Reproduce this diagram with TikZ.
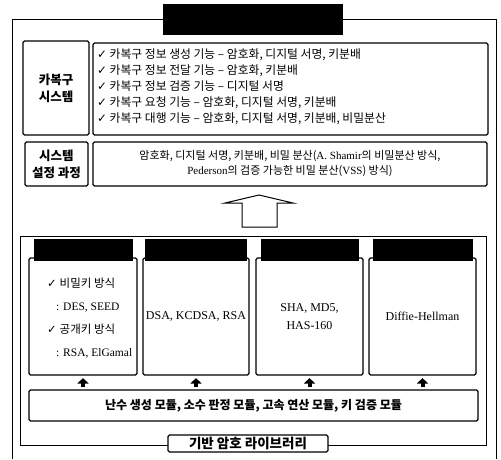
\documentclass[tikz,border=0pt]{standalone}
\usepackage{fontspec}
\setmainfont{Liberation Serif}
\newfontfamily\kr{Noto Sans CJK KR}
\newfontfamily\dv{DejaVu Sans}
\usetikzlibrary{arrows.meta}
\newcommand{\ck}{{\dv ✓}}
\begin{document}
\begin{tikzpicture}[x=1pt,y=-1pt,
  box/.style={draw, line width=1.1pt, rounded corners=1.5pt, fill=white, inner sep=0pt},
  lbl/.style={box, align=center, font=\kr\bfseries\fontsize{12.5}{17}\selectfont},
  algbox/.style={box, minimum height=117, font=\fontsize{12}{18}\selectfont, align=center},
  tab/.style={fill=black, inner sep=0pt, minimum height=22, anchor=south},
  frame/.style={draw, line width=0.8pt, inner sep=0pt},
  smarrow/.style={line width=4pt, -{Triangle[width=11pt,length=5.5pt]}, shorten <=2pt, shorten >=2.5pt},
  hollow/.style={draw, line width=1pt, fill=white, line join=miter}]
\useasboundingbox (0,0) rectangle (501,459);

% outer frame and title
\node[fill=black, minimum width=180, minimum height=31, inner sep=0pt] (title) at (253,19.5) {};
\draw[line width=0.8pt] (12,459) |- (title.west);
\draw[line width=0.8pt] (title.east) -| (496,459);

% top section
\node[lbl, minimum width=66, minimum height=94] (lab1) at (56,88) {카복구\\시스템};
\node[box, minimum width=395, minimum height=92] (con1) at (290.5,89) {};
\node[anchor=west, align=left, inner sep=0pt, font=\kr\fontsize{11.8}{16}\selectfont] (con1t) at (97,87)
 {\ck\ 카복구 정보 생성 기능 – 암호화, 디지털 서명, 키분배\\
  \ck\ 카복구 정보 전달 기능 – 암호화, 키분배\\
  \ck\ 카복구 정보 검증 기능 – 디지털 서명\\
  \ck\ 카복구 요청 기능 – 암호화, 디지털 서명, 키분배\\
  \ck\ 카복구 대행 기능 – 암호화, 디지털 서명, 키분배, 비밀분산};

\node[lbl, minimum width=63, minimum height=44] (lab2) at (56.5,164) {시스템\\설정 과정};
\node[box, minimum width=394, minimum height=44, align=center, font=\fontsize{11}{15}\selectfont] (con2) at (290,164)
 {{\kr 암호화, 디지털 서명, 키분배, 비밀 분산(}A. Shamir{\kr 의 비밀분산 방식,}\\
  Pederson{\kr 의 검증 가능한 비밀 분산(}VSS{\kr ) 방식)}};

% big hollow arrow
\draw[hollow] (242,227) -- (242,203) -- (225,203) -- (259,195) -- (293,203) -- (277,203) -- (277,227) -- cycle;

% lower frame
\node[frame, minimum width=466, minimum height=209] (lframe) at (253,340.5) {};

% algorithm boxes
\node[algbox, minimum width=108] (b1) at (83,316.5) {};
\node[anchor=west, align=left, inner sep=0pt, font=\fontsize{11.5}{23}\selectfont] (b1t) at (47,318)
 {\ck\ {\kr 비밀키 방식}\\
  \hspace*{9pt}: DES, SEED\\
  \ck\ {\kr 공개키 방식}\\
  \hspace*{9pt}: RSA, ElGamal};
\node[algbox, minimum width=106] (b2) at (196,316.5) {DSA, KCDSA, RSA};
\node[algbox, minimum width=107] (b3) at (309.5,316.5) {SHA, MD5,\\HAS-160};
\node[algbox, minimum width=107] (b4) at (422.5,316.5) {Diffie-Hellman};

\node[tab, minimum width=99] (h1) at ([yshift=-4pt]b1.north) {};
\node[tab, minimum width=102] (h2) at ([yshift=-4pt]b2.north) {};
\node[tab, minimum width=98] (h3) at ([yshift=-4pt]b3.north) {};
\node[tab, minimum width=100] (h4) at ([yshift=-4pt]b4.north) {};

% module box
\node[box, minimum width=449, minimum height=31, font=\kr\bfseries\fontsize{12}{14}\selectfont] (mod) at (253.5,405.5)
 {난수 생성 모듈, 소수 판정 모듈, 고속 연산 모듈, 키 검증 모듈};

\foreach \b in {b1,b2,b3,b4}
  \draw[smarrow] (\b.south |- mod.north) -- (\b.south);

% library label
\node[box, minimum width=160, minimum height=17, font=\kr\bfseries\fontsize{13.5}{15}\selectfont] (lib) at (248,443.5) {기반 암호 라이브러리};
\end{tikzpicture}
\end{document}
